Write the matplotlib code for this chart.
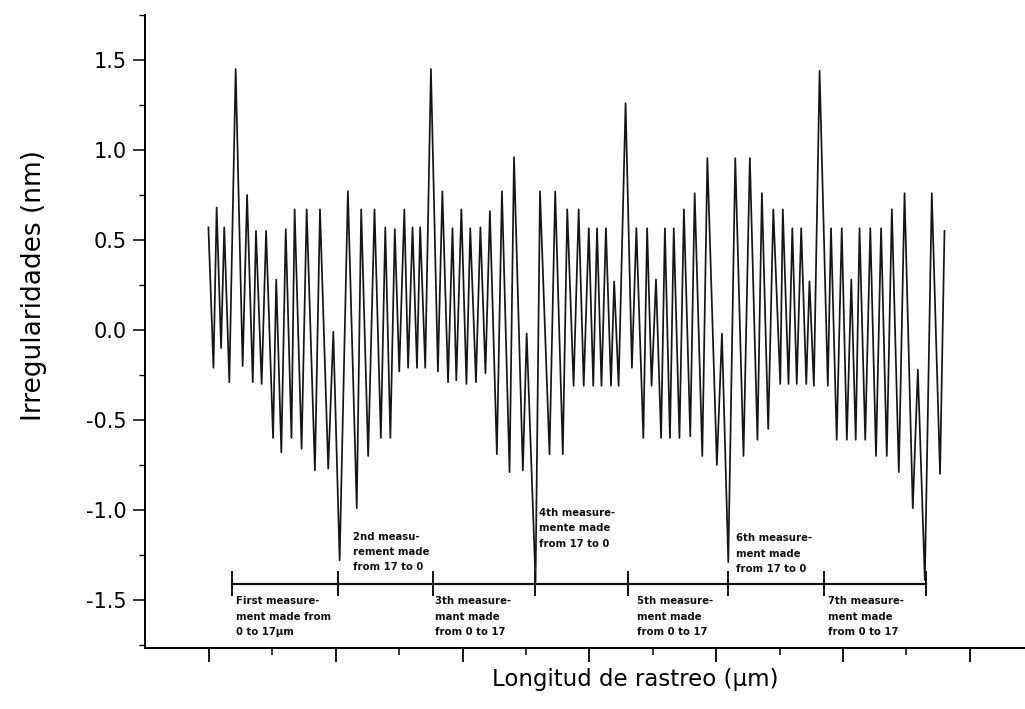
import matplotlib
matplotlib.use('Agg')
import matplotlib.pyplot as plt
from matplotlib.ticker import MultipleLocator, FixedLocator

# profile extrema (x in um, height in nm)
x_um = [-0.1, 0.7, 1.2, 1.9, 2.4, 3.2, 4.2, 5.3, 6.0, 6.9,
        7.4, 8.3, 9.0, 10.1, 10.6, 11.4, 12.1, 13.0, 13.5, 14.6,
        15.4, 16.7, 17.5, 18.8, 19.6, 20.6, 21.9, 23.3, 24.0, 25.1,
        26.1, 27.1, 27.8, 28.6, 29.3, 30.0, 30.8, 31.4, 32.1, 32.8,
        33.3, 34.1, 35.0, 36.1, 36.8, 37.7, 38.4, 39.0, 39.8, 40.6,
        41.2, 42.1, 42.8, 43.6, 44.3, 45.4, 46.2, 47.4, 48.1, 49.5,
        50.1, 51.5, 52.2, 53.7, 54.6, 55.8, 56.5, 57.5, 58.3, 59.1,
        59.9, 60.6, 61.2, 61.9, 62.6, 63.4, 63.9, 64.6, 65.7, 66.7,
        67.4, 68.5, 69.1, 69.8, 70.5, 71.3, 71.9, 72.7, 73.3, 74.2,
        74.9, 75.9, 76.6, 77.8, 78.6, 80.1, 80.9, 81.9, 83.0, 84.3,
        85.3, 86.5, 87.2, 88.2, 89.0, 90.1, 90.5, 91.4, 92.0, 92.7,
        93.4, 94.2, 94.7, 95.4, 96.3, 97.6, 98.1, 99.0, 99.8, 100.6,
        101.3, 102.0, 102.6, 103.5, 104.3, 105.2, 106.0, 106.9, 107.7, 108.8,
        109.7, 111.0, 111.8, 112.9, 114.0, 115.3, 116.0]

y_nm = [0.57, -0.21, 0.68, -0.10, 0.57, -0.29, 1.45, -0.20, 0.75, -0.29,
        0.55, -0.30, 0.55, -0.60, 0.28, -0.68, 0.56, -0.60, 0.67, -0.66,
        0.67, -0.78, 0.67, -0.77, -0.01, -1.28, 0.77, -0.99, 0.67, -0.70,
        0.67, -0.60, 0.57, -0.60, 0.56, -0.23, 0.67, -0.21, 0.57, -0.21,
        0.57, -0.21, 1.45, -0.23, 0.77, -0.29, 0.565, -0.28, 0.67, -0.30,
        0.565, -0.29, 0.57, -0.24, 0.66, -0.69, 0.77, -0.79, 0.96, -0.78,
        -0.02, -1.40, 0.77, -0.69, 0.77, -0.69, 0.67, -0.31, 0.67, -0.31,
        0.565, -0.31, 0.565, -0.31, 0.565, -0.31, 0.27, -0.31, 1.26, -0.21,
        0.565, -0.60, 0.565, -0.31, 0.28, -0.60, 0.565, -0.60, 0.565, -0.60,
        0.67, -0.59, 0.76, -0.70, 0.955, -0.75, -0.02, -1.29, 0.955, -0.70,
        0.955, -0.61, 0.76, -0.55, 0.67, -0.30, 0.67, -0.30, 0.565, -0.30,
        0.565, -0.30, 0.27, -0.31, 1.44, -0.31, 0.565, -0.61, 0.565, -0.61,
        0.28, -0.61, 0.565, -0.61, 0.565, -0.70, 0.565, -0.70, 0.67, -0.79,
        0.76, -0.99, -0.22, -1.39, 0.76, -0.80, 0.55]

# limits of the seven scans
seg_bounds = [3.6, 20.4, 35.3, 51.4, 66.1, 81.9, 97.0, 113.1]

notes = ["First measure-\nment made from\n0 to 17\u00b5m",
         "2nd measu-\nrement made\nfrom 17 to 0",
         "3th measure-\nmant made\nfrom 0 to 17",
         "4th measure-\nmente made\nfrom 17 to 0",
         "5th measure-\nment made\nfrom 0 to 17",
         "6th measure-\nment made\nfrom 17 to 0",
         "7th measure-\nment made\nfrom 0 to 17"]
note_x = [4.3, 22.7, 35.6, 52.0, 67.5, 83.1, 97.6]
note_y = [-1.48, -1.12, -1.48, -0.99, -1.48, -1.13, -1.48]

fig = plt.figure(figsize=(10.25, 7.09), dpi=100)
ax = fig.add_axes([145/1025, 61/709, 880/1025, 633/709])

ax.plot(x_um, y_nm, color='#151515', lw=1.25)

line_y = -1.41
ax.plot([seg_bounds[0], seg_bounds[-1]], [line_y, line_y], color='#111111', lw=1.6)
ax.vlines(seg_bounds, -1.34, -1.48, color='#111111', lw=1.4)

for t, xx, yy in zip(notes, note_x, note_y):
    ax.text(xx, yy, t, fontsize=7.3, fontweight='bold', va='top', ha='left',
            linespacing=1.65, color='#111111')

ax.set_xlim(-10.1, 128.7)
ax.set_ylim(-1.767, 1.75)

ax.spines['top'].set_visible(False)
ax.spines['right'].set_visible(False)
ax.spines['left'].set_linewidth(1.4)
ax.spines['bottom'].set_linewidth(1.4)

ax.set_yticks([-1.5, -1.0, -0.5, 0.0, 0.5, 1.0, 1.5])
ax.set_yticklabels(['-1.5', '-1.0', '-0.5', '0.0', '0.5', '1.0', '1.5'])
ax.yaxis.set_minor_locator(MultipleLocator(0.25))
ax.set_xticks(range(0, 121, 20))
ax.set_xticklabels([])
ax.xaxis.set_minor_locator(FixedLocator(range(10, 111, 20)))

ax.tick_params(axis='y', which='major', length=9, width=1.1, direction='out',
               labelsize=15, pad=4)
ax.tick_params(axis='y', which='minor', length=4, width=1.0, direction='out')
ax.tick_params(axis='x', which='major', length=10, width=1.3, direction='out')
ax.tick_params(axis='x', which='minor', length=5, width=1.1, direction='out')

ax.set_ylabel('Irregularidades (nm)', fontsize=19, ha='center', va='center')
ax.yaxis.set_label_coords(-0.126, 0.573)
ax.set_xlabel('Longitud de rastreo (\u00b5m)', fontsize=16.5, ha='center', va='center')
ax.xaxis.set_label_coords(0.557, -0.05)

fig.savefig('out.png', dpi=100)
